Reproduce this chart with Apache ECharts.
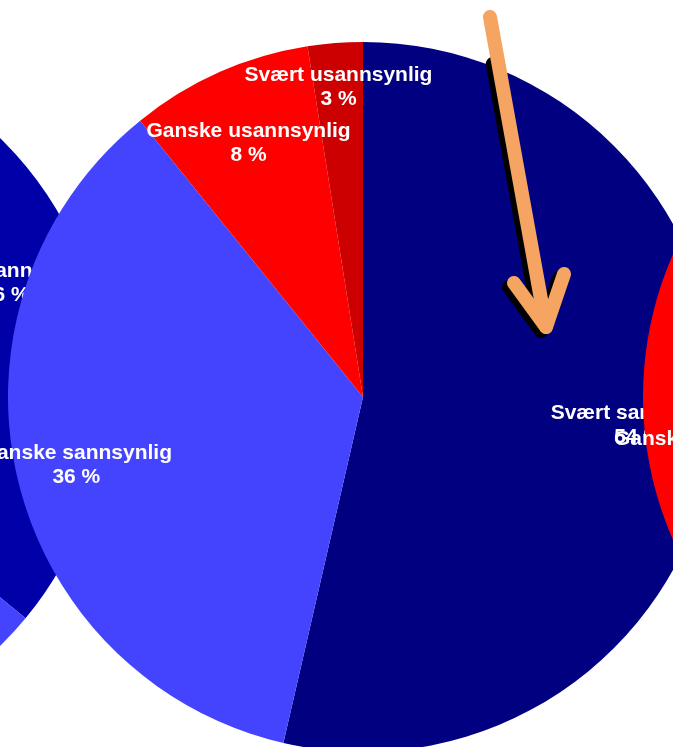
<!DOCTYPE html>
<html><head><meta charset="utf-8">
<script src="https://cdn.jsdelivr.net/npm/echarts@6/dist/echarts.min.js"></script>
<style>html,body{margin:0;padding:0;background:#fff}#c{width:673px;height:747px}</style>
</head><body><div id="c"></div>
<script>
// ---- data ----
const categories = ['Svært sannsynlig', 'Ganske sannsynlig', 'Ganske usannsynlig', 'Svært usannsynlig'];
const mainValues  = [53.6, 35.6, 8.3, 2.5];   // centre pie (labels: 54 %, 36 %, 8 %, 3 %)
const leftValues  = [36, 48, 12, 4];          // pie cut off at the left edge
const rightValues = [22, 39, 22, 17];         // pie cut off at the right edge
const mainLabelled  = [0, 1, 2, 3];
const leftLabelled  = [0];
const rightLabelled = [2];

// ---- styles / layout ----
const R = 355;
const mainColors  = ['#000080', '#4444FF', '#FF0000', '#CC0000'];
const leftColors  = ['#0000A8', '#4444FF', '#FF0000', '#CC0000'];
const rightColors = ['#000080', '#4444FF', '#FF0000', '#CC0000'];
const mainNudge  = [[-10, -4], [-7, 4], [2, 9], [-2, -24]];
const leftNudge  = [[-6, 13], [0, 0], [0, 0], [0, 0]];
const rightNudge = [[0, 0], [0, 0], [0, 0], [0, 0]];

const labelStyle = {
  color: '#FFFFFF', fontFamily: 'Liberation Sans, Arial, sans-serif',
  fontWeight: 'bold', fontSize: 21, lineHeight: 24, align: 'center'
};

function sectors(values, colors, center, z) {
  return {
    type: 'pie', center: center, radius: [0, R], z: z, silent: true,
    startAngle: 90, clockwise: true, avoidLabelOverlap: false,
    label: { show: false }, labelLine: { show: false },
    itemStyle: { borderWidth: 0 },
    emphasis: { disabled: true },
    data: values.map((v, i) => ({ name: categories[i], value: v, itemStyle: { color: colors[i] } }))
  };
}
function labelRing(values, labelled, center, z, nudge) {
  return {
    type: 'pie', center: center, radius: [R * 0.6, R], z: z, silent: true,
    startAngle: 90, clockwise: true, avoidLabelOverlap: false,
    labelLine: { show: false },
    itemStyle: { color: 'rgba(0,0,0,0)', borderWidth: 0 },
    emphasis: { disabled: true },
    label: Object.assign({
      show: true, position: 'inside',
      formatter: p => p.name + '\n' + Math.round(p.value) + ' %'
    }, labelStyle),
    labelLayout: p => ({ dx: nudge[p.dataIndex][0], dy: nudge[p.dataIndex][1] }),
    data: values.map((v, i) => ({ name: categories[i], value: v, label: { show: labelled.indexOf(i) >= 0 } }))
  };
}

// arrow geometry (annotation)
const arrowTail = [490, 17], arrowTip = [546, 327];
const wingL = [514, 283], wingR = [564, 274];
const shadowOff = [-5, 4];
const slope = (arrowTip[0] - arrowTail[0]) / (arrowTip[1] - arrowTail[1]);
const shadowStartY = 60;
const shadowStart = [arrowTail[0] + slope * (shadowStartY - arrowTail[1]) + shadowOff[0], shadowStartY + shadowOff[1]];
const off = p => [p[0] + shadowOff[0], p[1] + shadowOff[1]];

const chart = echarts.init(document.getElementById('c'), null, { renderer: 'canvas' });
const arrowColor = '#F5A462';
chart.setOption({
  animation: false,
  backgroundColor: '#FFFFFF',
  series: [
    sectors(leftValues, leftColors, [-248, 392], 1),
    labelRing(leftValues, leftLabelled, [-248, 392], 2, leftNudge),
    sectors(mainValues, mainColors, [363, 397], 3),
    labelRing(mainValues, mainLabelled, [363, 397], 4, mainNudge),
    sectors(rightValues, rightColors, [998, 397], 5),
    labelRing(rightValues, rightLabelled, [998, 397], 6, rightNudge)
  ],
  graphic: [
    { type: 'polyline', z: 100, shape: { points: [shadowStart, off(arrowTip)] },
      style: { stroke: '#000', lineWidth: 14, lineCap: 'round', fill: null } },
    { type: 'polyline', z: 100, shape: { points: [off(wingL), off(arrowTip), off(wingR)] },
      style: { stroke: '#000', lineWidth: 14, lineCap: 'round', lineJoin: 'round', fill: null } },
    { type: 'polyline', z: 101, shape: { points: [arrowTail, arrowTip] },
      style: { stroke: arrowColor, lineWidth: 14, lineCap: 'round', fill: null } },
    { type: 'polyline', z: 101, shape: { points: [wingL, arrowTip, wingR] },
      style: { stroke: arrowColor, lineWidth: 14, lineCap: 'round', lineJoin: 'round', fill: null } }
  ]
});
</script>
</body></html>
